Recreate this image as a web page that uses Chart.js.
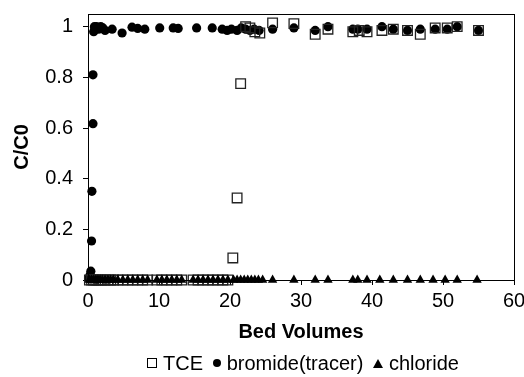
<!DOCTYPE html>
<html>
<head>
<meta charset="utf-8">
<script src="https://cdn.jsdelivr.net/npm/chart.js@4/dist/chart.umd.min.js"></script>
<style>
  html, body { margin: 0; padding: 0; background: #fff; }
  #wrap { position: relative; width: 524px; height: 377px; }
  #legend {
    position: absolute; left: 88px; width: 426px; top: 351px;
    text-align: center; font: 20px "Liberation Sans", Arial, sans-serif;
    line-height: 24px; color: #000; white-space: nowrap;
  }
  .sym { display: inline-block; vertical-align: middle; margin: 0 6px 3px 4px; }
  .sq { width: 8px; height: 8px; border: 1px solid #000; }
  .ci { width: 8px; height: 8px; border-radius: 50%; background: #000; }
  .tr { width: 0; height: 0; border-left: 5px solid transparent; border-right: 5px solid transparent; border-bottom: 9px solid #000; }
</style>
</head>
<body>
<div id="wrap">
  <canvas id="chart" width="524" height="377"></canvas>
  <div id="legend">
    <span class="sym sq"></span>TCE
    <span class="sym ci"></span>bromide(tracer)
    <span class="sym tr"></span>chloride
  </div>
</div>
<script>
// TCE (open squares)
const tceX = [0.2, 0.5, 0.8, 1.1, 1.4, 1.7, 2.0, 2.4, 2.8, 3.2, 3.6, 4.2, 4.9, 5.6, 6.3, 7.0, 7.7, 8.4,
  9.7, 10.4, 11.1, 11.8, 12.5, 13.2, 14.8, 15.5, 16.2, 16.9, 17.6, 18.3, 19.0, 19.7,
  20.4, 21.0, 21.5, 22.2, 22.8, 23.5, 24.2, 26.0, 29.0, 32.0, 33.8, 37.3, 38.2, 39.3,
  41.4, 43.0, 45.0, 46.8, 48.9, 50.6, 52.0, 55.0];
const tceY = [0, 0, 0, 0, 0, 0, 0, 0, 0, 0, 0, 0, 0, 0, 0, 0, 0, 0,
  0, 0, 0, 0, 0, 0, 0, 0, 0, 0, 0, 0, 0, 0,
  0.087, 0.324, 0.775, 1.0, 0.995, 0.98, 0.975, 1.015, 1.012, 0.97, 0.99, 0.98, 0.985, 0.98,
  0.985, 0.99, 0.985, 0.97, 0.995, 0.995, 1.0, 0.985];

// bromide tracer (filled circles)
const bromideX = [0.1, 0.2, 0.3, 0.4, 0.5, 0.55, 0.7, 0.7, 0.8, 0.9, 1.0, 1.2, 1.5, 1.8, 2.1, 2.4,
  3.4, 4.8, 6.2, 7.0, 8.0, 10.1, 12.0, 12.7, 15.3, 17.5, 18.9, 19.6, 20.2, 21.0, 21.6,
  22.2, 22.8, 23.4, 24.1, 26.0, 29.0, 32.0, 33.8, 37.3, 38.0, 39.3, 41.4, 43.0, 45.0,
  46.8, 48.9, 50.6, 52.0, 55.0];
const bromideY = [0.005, 0.01, 0.02, 0.035, 0.154, 0.35, 0.617, 0.81, 0.98, 1.0, 0.995, 1.0, 0.99, 1.0, 0.995, 0.985,
  0.99, 0.975, 0.998, 0.993, 0.99, 0.995, 0.995, 0.993, 0.995, 0.995, 0.99, 0.985, 0.99, 0.985, 0.995,
  0.99, 0.985, 0.99, 0.985, 0.99, 0.995, 0.985, 1.0, 0.99, 0.99, 0.99, 1.0, 0.99, 0.985,
  0.99, 0.99, 0.99, 1.0, 0.985];

// chloride (filled triangles)
const chlorideX = [0.2, 0.5, 0.8, 1.1, 1.4, 1.7, 2.0, 2.4, 2.8, 3.2, 3.6, 4.2, 4.9, 5.6, 6.3, 7.0, 7.7, 8.4,
  9.7, 10.4, 11.1, 11.8, 12.5, 13.2, 14.8, 15.5, 16.2, 16.9, 17.6, 18.3, 19.0, 19.7,
  20.5, 21.0, 21.5, 22.0, 22.5, 23.0, 23.5, 24.0, 24.6, 26.0, 29.0, 32.0, 33.8, 37.3, 38.0, 39.3,
  41.1, 43.0, 45.0, 46.8, 48.6, 50.3, 52.0, 54.8];
const chlorideY = chlorideX.map(() => 0);

const xTicks = [0, 10, 20, 30, 40, 50, 60];
const yTicks = [0, 0.2, 0.4, 0.6, 0.8, 1];

function toPoints(xs, ys) {
  return xs.map((x, i) => ({ x: x, y: ys[i] }));
}

const frame = {
  id: "frame",
  afterDatasetsDraw(chart) {
    const a = chart.chartArea;
    const ctx = chart.ctx;
    ctx.save();
    ctx.strokeStyle = "#000";
    ctx.lineWidth = 1;
    ctx.strokeRect(Math.round(a.left) + 0.5, Math.round(a.top) + 0.5,
      Math.round(a.right - a.left), Math.round(a.bottom - a.top));
    ctx.restore();
  },
};

const family = "'Liberation Sans', Arial, sans-serif";
const tickFont = { family: family, size: 20 };
const titleFont = { family: family, size: 20, weight: "bold" };

new Chart(document.getElementById("chart").getContext("2d"), {
  type: "scatter",
  data: {
    datasets: [
      {
        label: "chloride",
        data: toPoints(chlorideX, chlorideY),
        pointStyle: "triangle",
        pointRadius: 5.4,
        backgroundColor: "#000",
        borderColor: "#000",
        borderWidth: 0,
        clip: false,
      },
      {
        label: "TCE",
        data: toPoints(tceX, tceY),
        pointStyle: "rect",
        pointRadius: 6.8,
        backgroundColor: "rgba(255,255,255,0)",
        borderColor: "#222",
        borderWidth: 1.3,
        clip: false,
      },
      {
        label: "bromide(tracer)",
        data: toPoints(bromideX, bromideY),
        pointStyle: "circle",
        pointRadius: 4.6,
        backgroundColor: "#000",
        borderColor: "#000",
        borderWidth: 0,
        clip: false,
      },
    ],
  },
  options: {
    responsive: false,
    animation: false,
    layout: { padding: { top: 14, right: 10, bottom: 30, left: 0 } },
    plugins: { legend: { display: false }, tooltip: { enabled: false } },
    scales: {
      x: {
        min: 0,
        max: 60,
        afterFit(scale) {
          scale.height = 67;
          scale.paddingLeft = 0;
          scale.paddingRight = 0;
        },
        afterBuildTicks(scale) { scale.ticks = xTicks.map((v) => ({ value: v })); },
        grid: { drawOnChartArea: false, color: "#000", tickLength: 5 },
        border: { color: "#000", width: 1 },
        ticks: { color: "#000", font: tickFont, padding: 4, maxRotation: 0 },
        title: {
          display: true,
          text: "Bed Volumes",
          color: "#000",
          font: titleFont,
          padding: { top: 0, bottom: 3 },
        },
      },
      y: {
        min: 0,
        max: 1.05,
        afterFit(scale) {
          scale.width = 88;
          scale.paddingTop = 0;
          scale.paddingBottom = 0;
        },
        afterBuildTicks(scale) { scale.ticks = yTicks.map((v) => ({ value: v })); },
        grid: { drawOnChartArea: false, color: "#000", tickLength: 5 },
        border: { color: "#000", width: 1 },
        ticks: {
          color: "#000",
          font: tickFont,
          padding: 10,
          callback: (v) => String(Math.round(v * 10) / 10),
        },
        title: {
          display: true,
          text: "C/C0",
          color: "#000",
          font: titleFont,
          padding: { top: 10, bottom: 0 },
        },
      },
    },
  },
  plugins: [frame],
});
</script>
</body>
</html>
